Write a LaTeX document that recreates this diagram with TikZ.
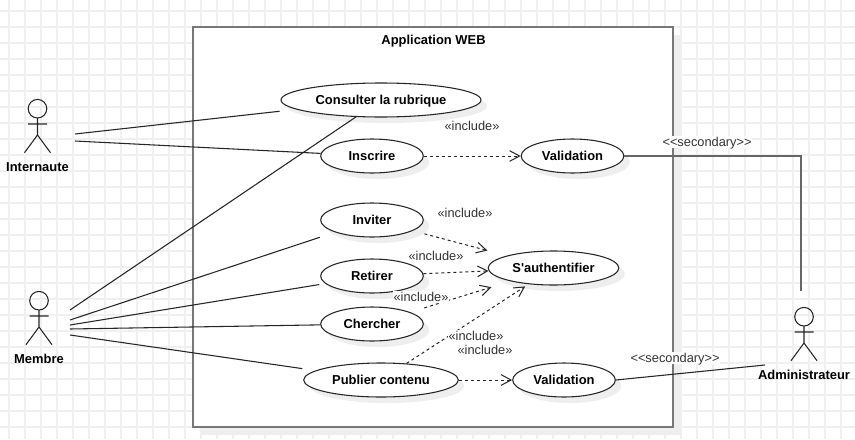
\documentclass[tikz,border=0pt]{standalone}
\usepackage{fontspec}
\setmainfont{Liberation Sans}
\usetikzlibrary{arrows.meta,shapes.geometric,shadows}
\definecolor{gridgray}{HTML}{F0F0F0}
\definecolor{shadowgray}{HTML}{EEEEEE}
\definecolor{framegray}{HTML}{777777}
\definecolor{textgray}{HTML}{333333}
\tikzset{
  gridline/.style={line width=1.5pt, gridgray},
  usecase/.style={ellipse, draw=black!85, fill=white, line width=0.8pt, inner sep=0pt, minimum height=25.5pt,
    font=\fontsize{9.7}{12}\selectfont\bfseries, text height=7pt, text depth=0pt,
    drop shadow={shadow xshift=4.5pt, shadow yshift=-4.5pt, fill=shadowgray, opacity=1}},
  sysframe/.style={draw=framegray, fill=white, line width=1.5pt, inner sep=0pt, minimum width=360pt, minimum height=300pt,
    drop shadow={shadow xshift=6pt, shadow yshift=-6pt, fill=shadowgray, opacity=1}},
  boldtext/.style={font=\fontsize{9.7}{12}\selectfont\bfseries, text height=7pt, text depth=0pt, inner sep=1pt},
  stereo/.style={font=\fontsize{9.6}{12}\selectfont, text=textgray, fill=white, text height=7pt, text depth=1pt, inner sep=0.5pt},
  assoc/.style={line width=0.8pt, black!85},
  incl/.style={line width=0.75pt, black!85, dash pattern=on 2.25pt off 2.25pt, -{Straight Barb[length=7.5pt,width=8pt]}},
}
\begin{document}
\begin{tikzpicture}[x=0.75pt, y=-0.75pt]
  \useasboundingbox (0,0) rectangle (855,439);
  \foreach \x in {9,25,...,857} \draw[gridline] (\x,0) -- (\x,439);
  \foreach \y in {11,27,...,439} \draw[gridline] (0,\y) -- (855,\y);

  \node[sysframe] (appweb) at (433,227) {};
  \node[boldtext] (apptitle) at (433.5,39.5) {Application WEB};

  \foreach \nm/\x/\y/\lbl/\ly in {internaute/37.5/0/Internaute/166.5, membre/39/192/Membre/358.5, administrateur/804/208/Administrateur/374.5} {
    \draw[line width=0.8pt, black!85] (\x,108.7+\y) circle (9.3);
    \draw[line width=0.8pt, black!85] (\x,118+\y) -- (\x,135+\y) (\x-9.5,124+\y) -- (\x+9.5,124+\y)
      (\x-13,152.7+\y) -- (\x,135+\y) -- (\x+13,152.7+\y);
    \node[boldtext] (\nm) at (\x,\ly) {\lbl};
  }
  \coordinate (internauteA) at (75,134);
  \coordinate (internauteB) at (75,141);
  \coordinate (membreA) at (70,310);
  \coordinate (membreB) at (70,320);
  \coordinate (membreC) at (70,325);
  \coordinate (membreD) at (70,329);
  \coordinate (membreE) at (70,335);
  \coordinate (adminA) at (801,291);
  \coordinate (adminB) at (765,365);

  \node[usecase, minimum width=150pt] (consulter) at (381,100) {Consulter la rubrique};
  \node[usecase, minimum width=77pt] (inscrire) at (372,156) {Inscrire};
  \node[usecase, minimum width=77pt] (validationA) at (572.5,156) {Validation};
  \node[usecase, minimum width=77pt] (inviter) at (372,220) {Inviter};
  \node[usecase, minimum width=77pt] (retirer) at (372,276) {Retirer};
  \node[usecase, minimum width=77pt] (chercher) at (372,324) {Chercher};
  \node[usecase, minimum width=98pt] (authentifier) at (553.5,268) {S\textquotesingle authentifier};
  \node[usecase, minimum width=116pt] (publier) at (381,380) {Publier contenu};
  \node[usecase, minimum width=77pt] (validationB) at (564,380) {Validation};

  \draw[assoc, shorten >=12.5pt] (internauteA) -- (consulter);
  \draw[assoc] (internauteB) -- (inscrire);
  \draw[assoc] (membreA) -- (consulter);
  \draw[assoc, shorten >=12pt] (membreB) -- (inviter);
  \draw[assoc, shorten >=4.5pt] (membreC) -- (retirer);
  \draw[assoc] (membreD) -- (chercher);
  \draw[assoc, shorten >=10pt] (membreE) -- (publier);

  \draw[incl] (inscrire) -- (validationA);
  \draw[incl, shorten <=9pt, shorten >=15pt] (inviter) -- (authentifier);
  \draw[incl] (retirer) -- (authentifier);
  \draw[incl, shorten <=11pt, shorten >=15pt] (chercher) -- (authentifier);
  \draw[incl, shorten >=3pt] (publier) -- (authentifier);
  \draw[incl] (publier) -- (validationB);

  \draw[line width=1.2pt, black!60] (validationA) -| (adminA);
  \draw[assoc] (validationB.east) -- (adminB);

  \node[stereo] (inclA) at (472,126) {«include»};
  \node[stereo] (inclB) at (465,213) {«include»};
  \node[stereo] (inclC) at (436,256) {«include»};
  \node[stereo] (inclD) at (421,297) {«include»};
  \node[stereo] (inclE) at (476,336) {«include»};
  \node[stereo] (inclF) at (485,350) {«include»};
  \node[stereo] (secondaryA) at (707,142) {<{}<secondary>{}>};
  \node[stereo] (secondaryB) at (675,358) {<{}<secondary>{}>};
\end{tikzpicture}
\end{document}
